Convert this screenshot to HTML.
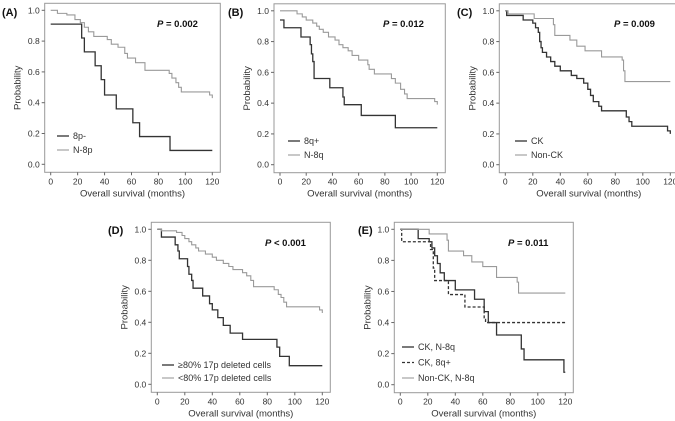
<!DOCTYPE html>
<html><head><meta charset="utf-8">
<style>
html,body{margin:0;padding:0;background:#fff;}
svg{display:block;font-family:"Liberation Sans",sans-serif;}
</style></head>
<body>
<svg id="fig" width="675" height="421" viewBox="0 0 675 421" xmlns="http://www.w3.org/2000/svg"></svg>
<script>
// ---- data (time in months, survival probability) ----
const xTicks = [0,20,40,60,80,100,120];
const yTicks = [0,0.2,0.4,0.6,0.8,1.0];
const yTickLabels = ["0.0","0.2","0.4","0.6","0.8","1.0"];

const aT1 = [0,23,25,33,37.5,40,48.7,61,66,88.6];
const aS1 = [0.91,0.82,0.73,0.64,0.55,0.45,0.36,0.27,0.18,0.09];
const aT2 = [0,5,12,18,22,25,28,32,42,45,50,55,57,63,70,88,90,93,95,97,118,120];
const aS2 = [1,0.98,0.97,0.94,0.92,0.89,0.86,0.83,0.81,0.78,0.76,0.72,0.69,0.66,0.61,0.59,0.56,0.53,0.5,0.47,0.45,0.43];

const bT1 = [0,3,16,23,24,25,26,38,48,49,62,88];
const bS1 = [0.94,0.89,0.83,0.78,0.72,0.67,0.56,0.5,0.44,0.39,0.32,0.24];
const bT2 = [0,13,17,20,25,28,30,33,37,42,45,48,52,55,60,67,68,72,85,88,92,95,97,118,120];
const bS2 = [1,0.98,0.96,0.94,0.92,0.9,0.88,0.86,0.83,0.81,0.78,0.76,0.74,0.71,0.68,0.65,0.62,0.59,0.56,0.53,0.49,0.46,0.43,0.41,0.39];

const cT1 = [0,1,13,20,22,24,25,26,27,30,33,36,40,48,52,57,60,62,64,68,70,88,90,92,118,120];
const cS1 = [1,0.97,0.94,0.92,0.89,0.86,0.8,0.76,0.73,0.7,0.67,0.64,0.61,0.58,0.56,0.53,0.49,0.45,0.41,0.38,0.35,0.31,0.28,0.25,0.22,0.2];
const cT2 = [0,2,21,35,36,47,52,58,70,85,86,87];
const cS2 = [1,0.98,0.95,0.91,0.84,0.81,0.77,0.74,0.7,0.68,0.61,0.54];

const dT1 = [0,3,13,15,16,22,23,25,26,33,38,40,44,48,53,62,87,89,96];
const dS1 = [1,0.95,0.9,0.86,0.81,0.76,0.71,0.67,0.62,0.57,0.52,0.48,0.43,0.38,0.33,0.29,0.24,0.18,0.12];
const dT2 = [0,3,14,18,20,23,25,28,30,35,40,43,48,52,55,62,65,68,70,85,88,90,92,94,118,120];
const dS2 = [1,0.99,0.98,0.96,0.94,0.92,0.9,0.88,0.86,0.84,0.82,0.8,0.78,0.76,0.74,0.72,0.7,0.67,0.63,0.61,0.58,0.56,0.53,0.5,0.48,0.46];

const eT1 = [0,13,21,23,25,27,29,32,40,54,61,64,70,88,90,119];
const eS1 = [1,0.94,0.92,0.88,0.83,0.78,0.72,0.67,0.61,0.55,0.47,0.4,0.32,0.23,0.16,0.08];
const eT2 = [0,1,22,24,25,26,35,47,61,62];
const eS2 = [1,0.92,0.87,0.75,0.67,0.67,0.58,0.5,0.42,0.4];
const eT3 = [0,21,34,35,46,52,60,70,85,86];
const eS3 = [1,0.97,0.93,0.86,0.83,0.79,0.76,0.69,0.66,0.59];

const panels = [
 {id:"a",label:"(A)",lx:2,ly:16,x0:50.7,x1:212.3,y1:10.3,y0:164.3,p:"0.002",pop:"=",px:157,py:27,
  series:[{t:aT1,s:aS1,k:"dark",n:"8p-"},{t:aT2,s:aS2,k:"gray",n:"N-8p"}],legX:57,legY:136,legDy:14},
 {id:"b",label:"(B)",lx:228,ly:16,x0:280,x1:437.3,y1:10.8,y0:164.7,p:"0.012",pop:"=",px:383,py:27,
  series:[{t:bT1,s:bS1,k:"dark",n:"8q+"},{t:bT2,s:bS2,k:"gray",n:"N-8q"}],legX:288,legY:141,legDy:14},
 {id:"c",label:"(C)",lx:457,ly:16,x0:505.3,x1:670.3,y1:10.8,y0:164.7,p:"0.009",pop:"=",px:614,py:27,
  series:[{t:cT1,s:cS1,k:"dark",n:"CK"},{t:cT2,s:cS2,k:"gray",n:"Non-CK"}],legX:515,legY:141,legDy:14},
 {id:"d",label:"(D)",lx:108,ly:234,x0:157.3,x1:322.3,y1:229.3,y0:384.3,p:"0.001",pop:"<",px:265,py:246,
  series:[{t:dT1,s:dS1,k:"dark",n:"\u226580% 17p deleted cells"},{t:dT2,s:dS2,k:"gray",n:"<80% 17p deleted cells"}],legX:162,legY:365,legDy:13},
 {id:"e",label:"(E)",lx:358,ly:234,x0:400.3,x1:565.3,y1:229.3,y0:384.7,p:"0.011",pop:"=",px:508,py:246,
  series:[{t:eT1,s:eS1,k:"dark",n:"CK, N-8q"},{t:eT2,s:eS2,k:"dash",n:"CK, 8q+"},{t:eT3,s:eS3,k:"gray",n:"Non-CK, N-8q"}],legX:402,legY:347,legDy:15.5}
];

const NS="http://www.w3.org/2000/svg";
const svg=document.getElementById("fig");
function mk(tag,attrs,parent,text){const e=document.createElementNS(NS,tag);for(const k in attrs)e.setAttribute(k,attrs[k]);if(text!==undefined)e.textContent=text;(parent||svg).appendChild(e);return e;}
const styles={dark:{stroke:"#333",w:1.3,dash:null},gray:{stroke:"#9a9a9a",w:1.1,dash:null},dash:{stroke:"#333",w:1.3,dash:"3,2"}};

panels.forEach(P=>{
  const g=mk("g",{});
  
  
  const sx=t=>P.x0+(P.x1-P.x0)*t/120;
  const sy=v=>P.y0+(P.y1-P.y0)*v;
  const L=P.x0-6,R=P.x1+8,T=P.y1-7,B=P.y0+8;
  const fr=mk("rect",{x:L,y:T,width:R-L,height:B-T,fill:"none",stroke:"#999","stroke-width":1},g);
  
  
  yTicks.forEach((v,i)=>{
    mk("line",{x1:L-3,x2:L,y1:sy(v),y2:sy(v),stroke:"#666","stroke-width":1},g);
    const tl=mk("text",{x:L-5,y:sy(v)+3,"font-size":8.5,"text-anchor":"end",fill:"#333"},g,yTickLabels[i]);
    
    
  });
  xTicks.forEach(v=>{
    mk("line",{x1:sx(v),x2:sx(v),y1:B,y2:B+3,stroke:"#666","stroke-width":1},g);
    const tl=mk("text",{x:sx(v),y:B+12,"font-size":8.5,"text-anchor":"middle",fill:"#333"},g,String(v));
    
    
  });
  const xt=mk("text",{x:(L+R)/2,y:B+24,"font-size":9.5,"text-anchor":"middle",fill:"#333"},g,"Overall survival (months)");
  
  
  const yx=L-24,yy=(T+B)/2;
  const yt=mk("text",{x:yx,y:yy,"font-size":9.5,"text-anchor":"middle",fill:"#333",transform:`rotate(-90 ${yx} ${yy})`},g,"Probability");
  
  
  const pl=mk("text",{x:P.lx,y:P.ly,"font-size":11,"font-weight":"bold",fill:"#111"},g,P.label);
  
  
  const pv=mk("text",{x:P.px,y:P.py,"font-size":9.5,"font-weight":"bold",fill:"#111"},g);
  
  
  mk("tspan",{"font-style":"italic"},pv,"P");
  mk("tspan",{},pv," "+P.pop+" "+P.p);
  P.series.forEach((S,si)=>{
    const st=styles[S.k];
    let d=`M${sx(S.t[0])},${sy(S.s[0])}`;
    for(let i=1;i<S.t.length;i++){d+=` H${sx(S.t[i])} V${sy(S.s[i])}`;}
    d+=` H${sx(120)}`;
    const a={d:d,fill:"none",stroke:st.stroke,"stroke-width":st.w};
    if(st.dash)a["stroke-dasharray"]=st.dash;
    const p=mk("path",a,g);
    
    
    const ly=P.legY+si*P.legDy;
    const la={x1:P.legX,x2:P.legX+12,y1:ly,y2:ly,stroke:st.stroke,"stroke-width":st.w};
    if(st.dash)la["stroke-dasharray"]=st.dash;
    const ll=mk("line",la,g);
    
    
    const lt=mk("text",{x:P.legX+16,y:ly+3,"font-size":9,fill:"#333"},g,S.n);
    
    
  });
});
</script>
</body></html>
